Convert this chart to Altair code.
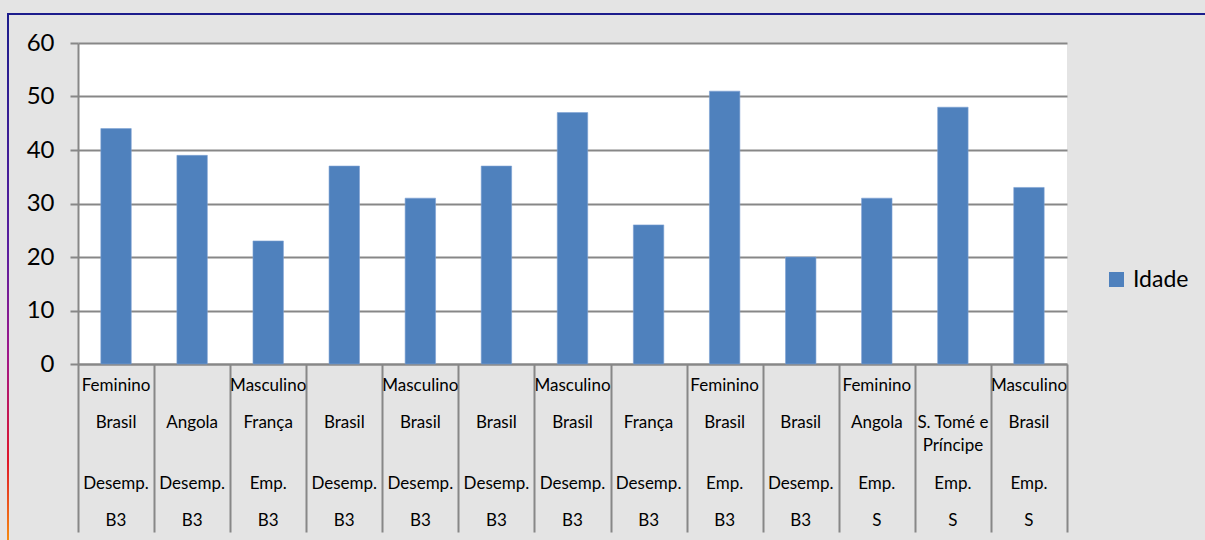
import altair as alt
import pandas as pd

generos = ["Feminino", "", "Masculino", "", "Masculino", "", "Masculino", "", "Feminino", "", "Feminino", "", "Masculino"]
paises = ["Brasil", "Angola", "França", "Brasil", "Brasil", "Brasil", "Brasil", "França", "Brasil", "Brasil", "Angola", "S. Tomé e\nPríncipe", "Brasil"]
situacoes = ["Desemp.", "Desemp.", "Emp.", "Desemp.", "Desemp.", "Desemp.", "Desemp.", "Desemp.", "Emp.", "Desemp.", "Emp.", "Emp.", "Emp."]
niveis = ["B3", "B3", "B3", "B3", "B3", "B3", "B3", "B3", "B3", "B3", "S", "S", "S"]
idades = [44, 39, 23, 37, 31, 37, 47, 26, 51, 20, 31, 48, 33]
serie = "Idade"
y_ticks = [0, 10, 20, 30, 40, 50, 60]

df = pd.DataFrame({
    "i": list(range(len(idades))),
    "genero": generos,
    "pais": paises,
    "situacao": situacoes,
    "nivel": niveis,
    "idade": idades,
    "serie": [serie] * len(idades),
})

FONT = "Lato"
GRAY = "#878787"

xenc = alt.X("i:O", scale=alt.Scale(paddingInner=0, paddingOuter=0),
             axis=alt.Axis(labels=False, title=None, tickBand="extent", tickSize=168,
                           tickColor=GRAY, tickWidth=2, domainColor=GRAY, domainWidth=2))

bars = alt.Chart(df).mark_bar(width=alt.RelativeBandSize(0.4), stroke="#7ea1d3", strokeWidth=0.6).encode(
    x=xenc,
    y=alt.Y("idade:Q", scale=alt.Scale(domain=[0, 60], nice=False),
            axis=alt.Axis(values=y_ticks, title=None, tickSize=8, tickColor=GRAY, tickWidth=2,
                          domainColor=GRAY, domainWidth=2, gridColor=GRAY, gridWidth=2,
                          labelFontSize=24, labelFont=FONT, labelColor="#000000",
                          labelPadding=16)),
    color=alt.Color("serie:N", scale=alt.Scale(domain=[serie], range=["#4f81bd"]),
                    legend=alt.Legend(title=None, orient="none", legendX=1027, legendY=225,
                                      symbolType="square", symbolSize=225, symbolStrokeWidth=0,
                                      labelFontSize=23, labelFont=FONT, labelColor="#000000",
                                      labelOffset=5, padding=0)),
)

def row(field, ypix, baseline="middle"):
    return alt.Chart(df).mark_text(font=FONT, fontSize=17, color="#000000", baseline=baseline,
                                   lineBreak="\n", lineHeight=23).encode(
        x=alt.X("i:O"), y=alt.value(ypix), text=f"{field}:N")

r1 = row("genero", 343)
r2 = row("pais", 372, "top")
r3 = row("situacao", 441)
r4 = row("nivel", 478)

one = pd.DataFrame({"a": [0]})
grad = alt.LinearGradient(gradient="linear", x1=0, x2=0, y1=0, y2=1, stops=[
    alt.GradientStop(offset=0, color="#1c1c8c"),
    alt.GradientStop(offset=0.45, color="#5a1e9e"),
    alt.GradientStop(offset=0.65, color="#a0188a"),
    alt.GradientStop(offset=0.85, color="#e0182a"),
    alt.GradientStop(offset=1, color="#f58a10"),
])
left_border = alt.Chart(one).mark_rect(fill=grad).encode(
    x=alt.value(-71), x2=alt.value(-69), y=alt.value(-29), y2=alt.value(497))
top_border = alt.Chart(one).mark_rect(color="#1c1c8c").encode(
    x=alt.value(-71), x2=alt.value(1127), y=alt.value(-30), y2=alt.value(-28))

chart = alt.layer(bars, r1, r2, r3, r4, left_border, top_border).properties(
    width=989, height=321,
    autosize=alt.AutoSizeParams(type="none"),
    padding={"left": 78, "top": 43, "right": 138, "bottom": 176},
    background="#e4e4e4",
).configure_view(fill="#ffffff", stroke=None)

chart.save("out.html", embed_options={"renderer": "svg", "actions": False})
